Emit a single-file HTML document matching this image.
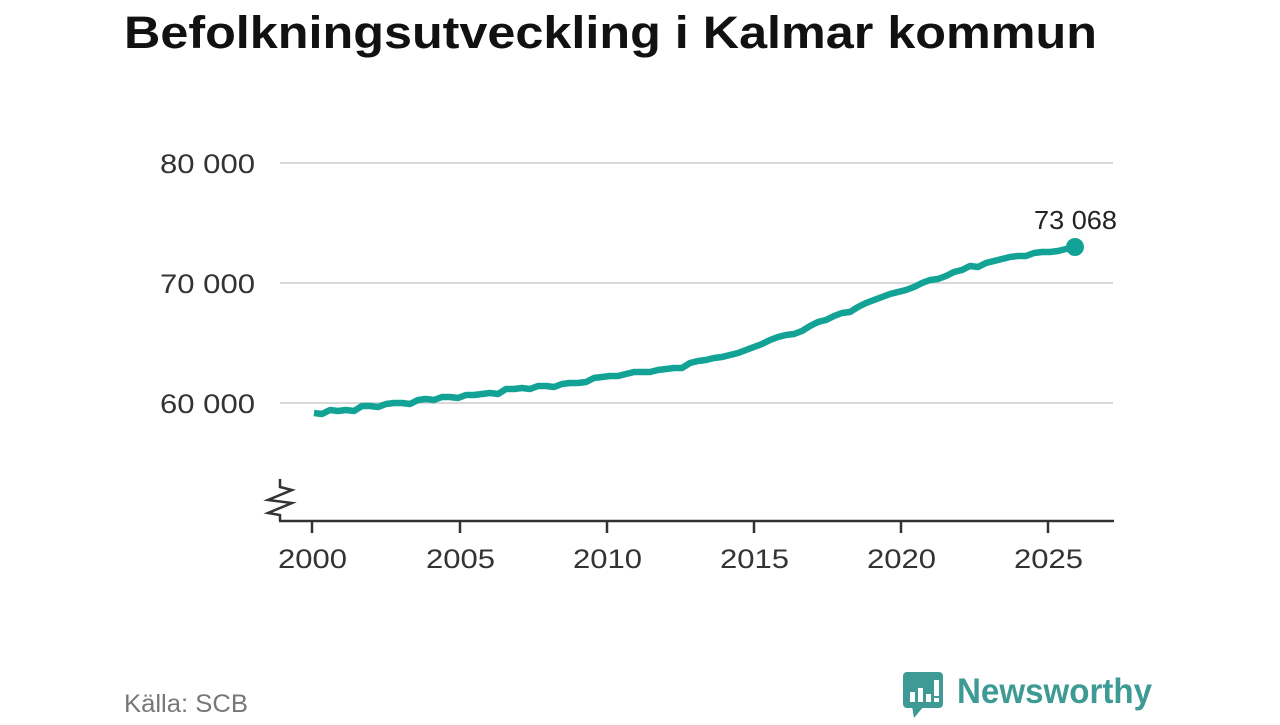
<!DOCTYPE html>
<html><head><meta charset="utf-8"><style>
body{margin:0;background:#fff;width:1280px;height:720px;overflow:hidden;font-family:"Liberation Sans",sans-serif}
</style></head><body>
<svg width="1280" height="720" xmlns="http://www.w3.org/2000/svg" font-family="Liberation Sans, sans-serif">
<text x="124" y="48" font-size="45" font-weight="bold" fill="#111" textLength="973" lengthAdjust="spacingAndGlyphs">Befolkningsutveckling i Kalmar kommun</text>
<g stroke="#d9d9d9" stroke-width="2">
<line x1="280" y1="163" x2="1113" y2="163"/>
<line x1="280" y1="283" x2="1113" y2="283"/>
<line x1="280" y1="403" x2="1113" y2="403"/>
</g>
<g font-size="27" fill="#333">
<text x="160" y="173" textLength="95" lengthAdjust="spacingAndGlyphs">80 000</text>
<text x="160" y="293" textLength="95" lengthAdjust="spacingAndGlyphs">70 000</text>
<text x="160" y="413" textLength="95" lengthAdjust="spacingAndGlyphs">60 000</text>
</g>
<g stroke="#333" stroke-width="2.5" fill="none">
<line x1="279" y1="521" x2="1114" y2="521"/>
<polyline points="280,479 280,487 292,490 268,500 292,503 268,513 280,515 280,521"/>
<line x1="312" y1="521" x2="312" y2="533"/>
<line x1="460" y1="521" x2="460" y2="533"/>
<line x1="607" y1="521" x2="607" y2="533"/>
<line x1="754" y1="521" x2="754" y2="533"/>
<line x1="901" y1="521" x2="901" y2="533"/>
<line x1="1048" y1="521" x2="1048" y2="533"/>
</g>
<g font-size="27" fill="#333">
<text x="278" y="568" textLength="69" lengthAdjust="spacingAndGlyphs">2000</text>
<text x="426" y="568" textLength="69" lengthAdjust="spacingAndGlyphs">2005</text>
<text x="573" y="568" textLength="69" lengthAdjust="spacingAndGlyphs">2010</text>
<text x="720" y="568" textLength="69" lengthAdjust="spacingAndGlyphs">2015</text>
<text x="867" y="568" textLength="69" lengthAdjust="spacingAndGlyphs">2020</text>
<text x="1014" y="568" textLength="69" lengthAdjust="spacingAndGlyphs">2025</text>
</g>
<polyline fill="none" stroke="#13a396" stroke-width="6.5" stroke-linejoin="round" points="314,413 322,414 330,410 338,411 346,410 354,411 362,406 370,406 378,407 386,404 394,403 402,403 410,404 418,400 426,399 434,400 442,397 450,397 458,398 466,395 474,395 482,394 490,393 498,394 506,389 514,389 522,388 530,389 538,386 546,386 554,387 562,384 570,383 578,383 586,382 594,378 602,377 610,376 618,376 626,374 634,372 642,372 650,372 658,370 666,369 674,368 682,368 690,363 698,361 706,360 714,358 722,357 730,355 738,353 746,350 754,347 762,344 770,340 778,337 786,335 794,334 802,331 810,326 818,322 826,320 834,316 842,313 850,312 858,307 866,303 874,300 882,297 890,294 898,292 906,290 914,287 922,283 930,280 938,279 946,276 954,272 962,270 970,266 978,267 986,263 994,261 1002,259 1010,257 1018,256 1026,256 1034,253 1042,252 1050,252 1058,251 1066,249 1075,247"/>
<circle cx="1075" cy="247" r="9" fill="#13a396"/>
<text x="1034" y="229" font-size="26" fill="#222" textLength="83" lengthAdjust="spacingAndGlyphs">73 068</text>
<text x="124" y="712" font-size="25" fill="#777" textLength="124" lengthAdjust="spacingAndGlyphs">Källa: SCB</text>
<g>
<rect x="903" y="672" width="40" height="36" rx="4" fill="#3e9a94"/>
<polygon points="912,706 924,706 914,718" fill="#3e9a94"/>
<rect x="910" y="692" width="5" height="10" fill="#fff"/>
<rect x="918" y="688" width="5" height="14" fill="#fff"/>
<rect x="926" y="694" width="5" height="8" fill="#fff"/>
<rect x="934" y="680" width="5" height="16" fill="#fff"/>
<rect x="934" y="698" width="5" height="4" fill="#fff"/>
<text x="957" y="703" font-size="35" font-weight="bold" fill="#3e9a94" textLength="195" lengthAdjust="spacingAndGlyphs">Newsworthy</text>
</g>
</svg>
</body></html>
